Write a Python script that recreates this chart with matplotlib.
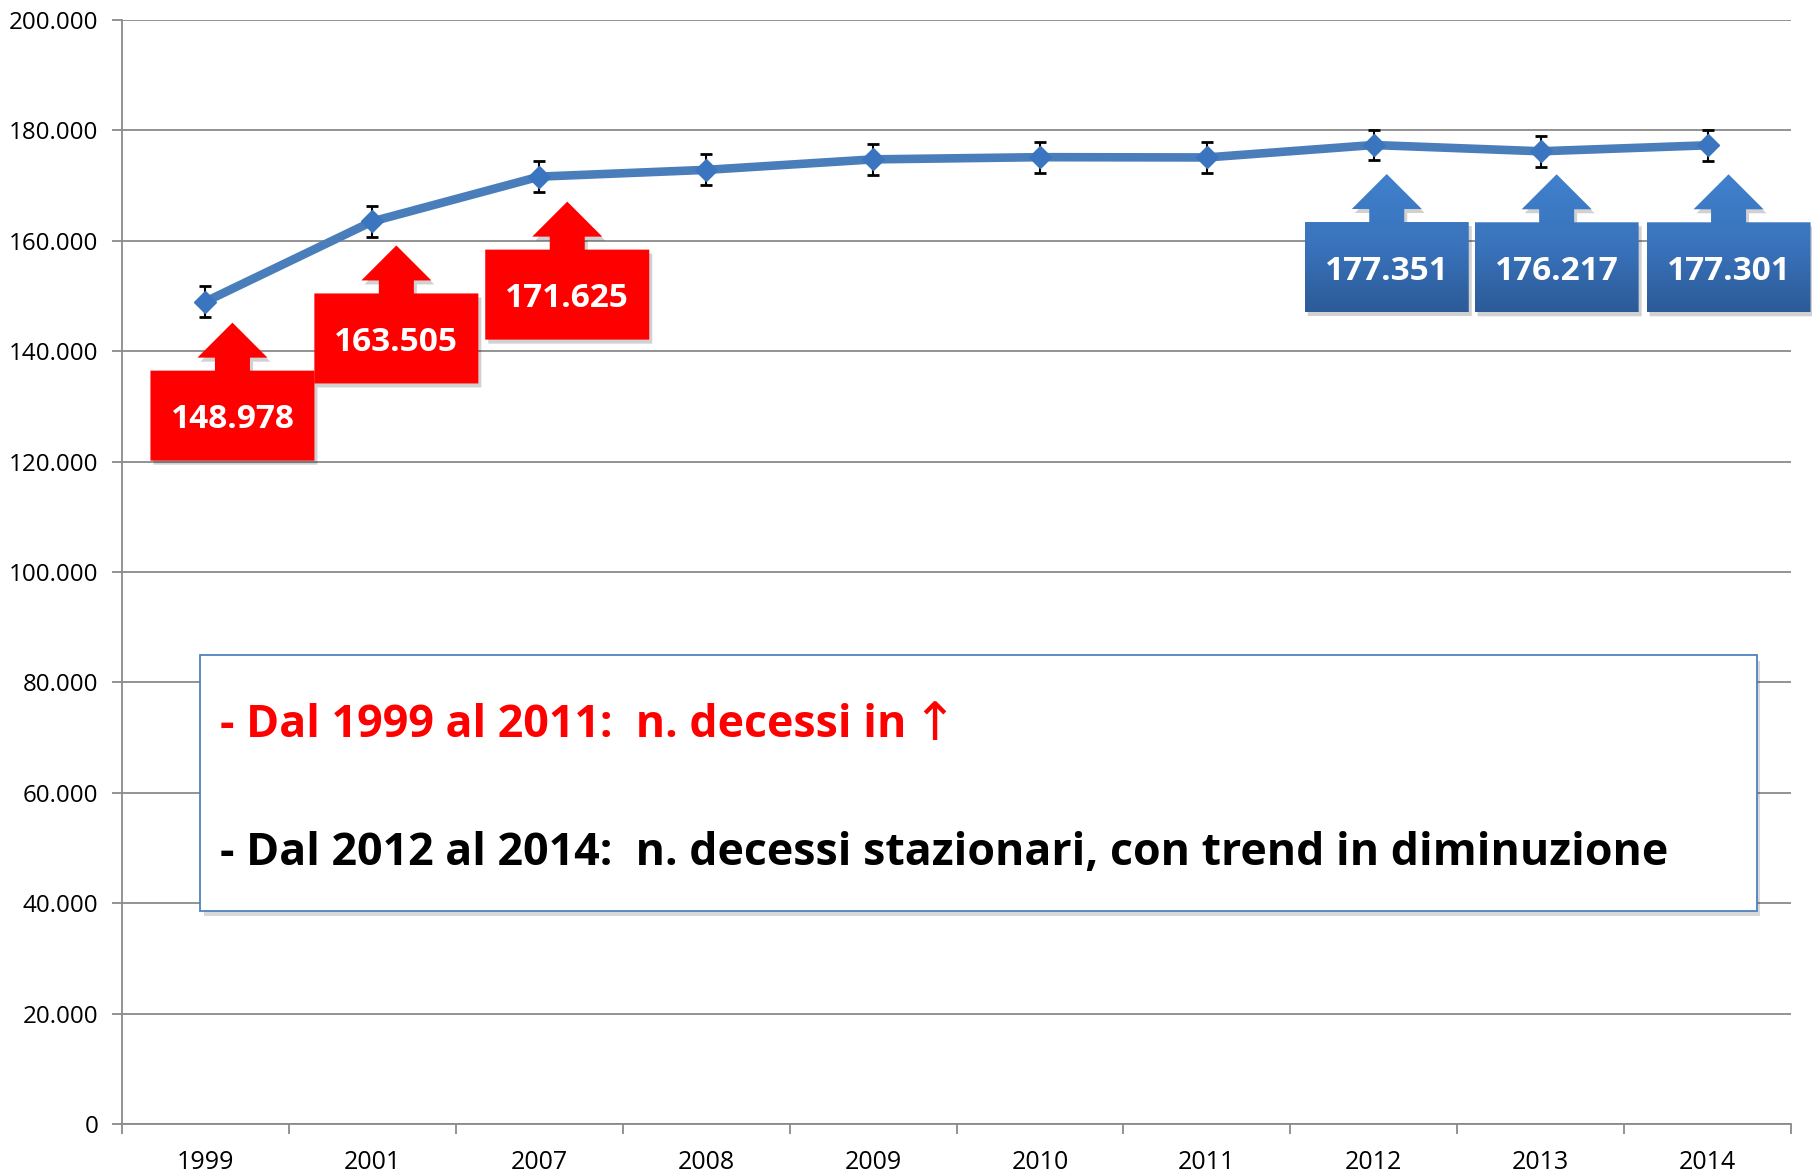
import matplotlib

matplotlib.use("Agg")
import matplotlib.pyplot as plt
import numpy as np
from matplotlib.patches import Polygon, Rectangle
from matplotlib.ticker import FixedLocator, FuncFormatter
from matplotlib.transforms import Affine2D, ScaledTranslation
from matplotlib.colors import LinearSegmentedColormap

# data
years = ["1999", "2001", "2007", "2008", "2009", "2010", "2011", "2012", "2013", "2014"]
deaths = [148978, 163505, 171625, 172850, 174750, 175150, 175100, 177351, 176217, 177301]
err = [2800, 2800, 2800, 2800, 2800, 2800, 2800, 2800, 2800, 2800]
y_ticks = [0, 20000, 40000, 60000, 80000, 100000, 120000, 140000, 160000, 180000, 200000]

# callouts: index of year, pixel offset of the arrow tip from the point
red_idx = [0, 1, 2]
red_offsets = [(27, -21), (24, -24), (28, -25)]
blue_idx = [7, 8, 9]
blue_offsets = [(13, -29), (16, -23), (21, -29)]

note_up = "- Dal 1999 al 2011:  n. decessi in"
note_down = "- Dal 2012 al 2014:  n. decessi stazionari, con trend in diminuzione"

LINE = "#4a7ebb"
GRID = "#8a8a8a"
FONT = ["Open Sans", "DejaVu Sans"]

fig = plt.figure(figsize=(18.12, 11.73), dpi=100)
ax = fig.add_axes([122 / 1812, 1 - 1124 / 1173, (1791 - 122) / 1812, (1124 - 20) / 1173])

x = np.arange(len(years))
ax.errorbar(x, deaths, yerr=err, fmt="none", ecolor="black", elinewidth=1.5,
            capsize=4.5, capthick=2, zorder=3)
ax.plot(x, deaths, color=LINE, lw=6.2, zorder=4, solid_capstyle="round")
ax.plot(x, deaths, ls="none", marker="D", ms=11.5, mfc="#3b74bf", mec="#3b74bf", zorder=5)

ax.set_xlim(-0.5, len(years) - 0.5)
ax.set_ylim(0, 200000)
ax.yaxis.set_major_locator(FixedLocator(y_ticks))
ax.yaxis.set_major_formatter(FuncFormatter(lambda v, _: f"{v:,.0f}".replace(",", ".")))
ax.xaxis.set_major_locator(FixedLocator(np.arange(len(years) + 1) - 0.5))
ax.xaxis.set_major_formatter(FuncFormatter(lambda v, _: ""))
ax.xaxis.set_minor_locator(FixedLocator(x))
ax.set_xticklabels(years, minor=True)
ax.tick_params(axis="x", which="major", length=7, width=1.3, color=GRID, direction="out")
ax.tick_params(axis="x", which="minor", length=0, pad=19, labelsize=18)
ax.tick_params(axis="y", length=7, width=1.3, color=GRID, direction="out", pad=10, labelsize=17.4)
for lab in ax.get_xticklabels(minor=True) + ax.get_yticklabels():
    lab.set_family(FONT)
ax.grid(axis="y", color=GRID, lw=1.3, zorder=0)
ax.set_axisbelow(True)
for side in ["top", "right"]:
    ax.spines[side].set_visible(False)
for side in ["left", "bottom"]:
    ax.spines[side].set_color(GRID)
    ax.spines[side].set_linewidth(1.3)

# arrow callout shape, pixels, tip at origin
BW, BH, HW, HH, SW, SH = 164, 90, 70, 35, 35, 13
shape = [(0, 0), (HW / 2, -HH), (SW / 2, -HH), (SW / 2, -HH - SH), (BW / 2, -HH - SH),
         (BW / 2, -HH - SH - BH), (-BW / 2, -HH - SH - BH), (-BW / 2, -HH - SH),
         (-SW / 2, -HH - SH), (-SW / 2, -HH), (-HW / 2, -HH)]
blue_cmap = LinearSegmentedColormap.from_list("bl", ["#2c5b98", "#3a74bd", "#4080cc"])
s = fig.dpi / 100


def callout(i, off, color):
    trans = Affine2D().translate(*off).scale(s) + ScaledTranslation(x[i], deaths[i], ax.transData)
    shadow = Affine2D().translate(off[0] + 3, off[1] - 4).scale(s) + ScaledTranslation(x[i], deaths[i], ax.transData)
    ax.add_patch(Polygon(shape, closed=True, transform=shadow, fc="#000000", alpha=0.18,
                         lw=0, zorder=6, clip_on=False))
    poly = Polygon(shape, closed=True, transform=trans, fc=color if color else "none",
                   ec="none", lw=0, zorder=7, clip_on=False)
    ax.add_patch(poly)
    if color is None:
        grad = np.linspace(1, 0, 64).reshape(-1, 1)
        im = ax.imshow(grad, extent=(-BW / 2, BW / 2, -HH - SH - BH, 0), transform=trans,
                       cmap=blue_cmap, aspect="auto", zorder=7.5, interpolation="bilinear")
        im.set_clip_box(fig.bbox)
        im.set_clip_path(poly)
    ax.text(0, -HH - SH - BH / 2, f"{deaths[i]:,}".replace(",", "."), transform=trans,
            ha="center", va="center_baseline", color="white", fontsize=24, fontweight="bold",
            family=FONT, zorder=8)


for i, off in zip(red_idx, red_offsets):
    callout(i, off, "#ff0000")
for i, off in zip(blue_idx, blue_offsets):
    callout(i, off, None)

ax.set_xlim(-0.5, len(years) - 0.5)
ax.set_ylim(0, 200000)

# note box
bx0, by0, bx1, by1 = 0.047, 0.193, 0.9796, 0.4248
ax.add_patch(Rectangle((bx0 + 0.002, by0 - 0.005), bx1 - bx0, by1 - by0, transform=ax.transAxes,
                       fc="#000000", alpha=0.15, lw=0, zorder=8))
ax.add_patch(Rectangle((bx0, by0), bx1 - bx0, by1 - by0, transform=ax.transAxes,
                       fc="white", ec="#4f81bd", lw=1.3, zorder=9))
t1 = ax.text(0.0587, 0.3505, note_up, transform=ax.transAxes, color="#ff0000", fontsize=32.2,
             fontweight="bold", family=FONT, va="baseline", zorder=10)
ax.annotate("\u2191", xy=(1, 0), xycoords=t1, xytext=(4, -2), textcoords="offset points",
            color="#ff0000", fontsize=38, family=["DejaVu Sans"], va="bottom", zorder=10)
ax.text(0.0587, 0.2346, note_down, transform=ax.transAxes, color="black", fontsize=32.2,
        fontweight="bold", family=FONT, va="baseline", zorder=10)

fig.savefig("out.png", dpi=100)
